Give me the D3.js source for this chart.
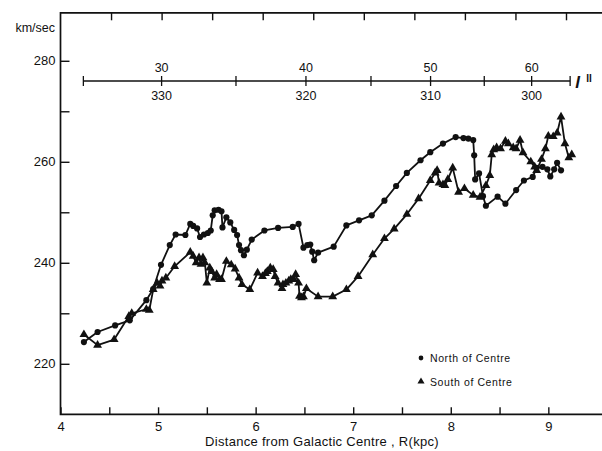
<!DOCTYPE html>
<html>
<head>
<meta charset="utf-8">
<script src="https://cdn.jsdelivr.net/npm/d3@7"></script>
<style>
  body { margin: 0; background: #fff; }
  text { font-family: "Liberation Sans", Arial, sans-serif; fill: #111; }
</style>
</head>
<body>
<svg id="chart" width="602" height="451"></svg>
<script>
// rotation velocity vs distance

// North of Centre (dots)
const northR = [4.24, 4.38, 4.56, 4.71, 4.88, 4.95, 5.03, 5.12, 5.18, 5.28, 5.33, 5.36, 5.40, 5.43, 5.47, 5.51,
  5.54, 5.56, 5.58, 5.62, 5.65, 5.66, 5.70, 5.74, 5.78, 5.81, 5.83, 5.85, 5.88, 5.91, 5.96, 6.09, 6.23, 6.38,
  6.44, 6.49, 6.53, 6.56, 6.58, 6.60, 6.64, 6.80, 6.93, 7.06, 7.19, 7.32, 7.44, 7.55, 7.69, 7.79, 7.92, 8.05,
  8.13, 8.18, 8.23, 8.24, 8.25, 8.29, 8.33, 8.36, 8.48, 8.56, 8.67, 8.75, 8.84, 8.88, 8.94, 8.99, 9.02, 9.06,
  9.09, 9.13];
const northV = [224.3, 226.3, 227.6, 228.6, 232.6, 234.8, 239.6, 243.5, 245.6, 245.5, 247.7, 247.3, 246.8, 245.1,
  245.6, 245.9, 246.4, 249.4, 250.4, 250.5, 250.2, 247.0, 249.0, 248.0, 246.5, 245.5, 243.5, 242.5, 241.5, 242.6,
  244.6, 246.4, 246.9, 247.1, 247.7, 243.0, 243.5, 243.6, 242.2, 240.5, 242.0, 243.2, 247.4, 248.4, 249.4, 252.3,
  255.2, 257.8, 260.3, 261.9, 263.6, 264.9, 264.7, 264.6, 264.3, 261.3, 256.5, 257.7, 253.2, 251.3, 253.1, 251.7,
  254.4, 256.3, 257.0, 258.8, 259.0, 258.5, 257.1, 258.5, 259.8, 258.3];

// South of Centre (triangles)
const southR = [4.24, 4.38, 4.55, 4.70, 4.73, 4.88, 4.91, 4.95, 4.99, 5.02, 5.04, 5.08, 5.17, 5.33, 5.36, 5.39,
  5.42, 5.44, 5.46, 5.48, 5.50, 5.53, 5.55, 5.58, 5.60, 5.63, 5.65, 5.70, 5.75, 5.79, 5.83, 5.86, 5.94, 6.02,
  6.07, 6.10, 6.12, 6.15, 6.18, 6.20, 6.23, 6.27, 6.28, 6.31, 6.34, 6.36, 6.39, 6.41, 6.44, 6.45, 6.47, 6.49,
  6.52, 6.64, 6.79, 6.93, 7.05, 7.20, 7.32, 7.42, 7.55, 7.67, 7.79, 7.84, 7.86, 7.88, 7.92, 7.94, 7.97, 8.02,
  8.08, 8.14, 8.23, 8.30, 8.36, 8.40, 8.42, 8.44, 8.47, 8.51, 8.56, 8.59, 8.64, 8.67, 8.71, 8.74, 8.82, 8.86,
  8.88, 8.93, 8.97, 9.00, 9.05, 9.09, 9.13, 9.17, 9.21, 9.24];
const southV = [225.8, 223.7, 224.8, 229.4, 230.0, 230.8, 230.6, 234.7, 236.0, 235.4, 236.4, 237.0, 239.3, 242.1,
  241.3, 240.0, 241.0, 239.7, 241.0, 240.0, 236.0, 239.0, 238.3, 237.0, 237.7, 236.7, 236.7, 240.3, 239.6, 238.8,
  237.0, 235.7, 234.7, 238.0, 237.3, 237.9, 238.3, 239.0, 238.7, 237.3, 236.0, 234.9, 235.7, 236.0, 236.4, 236.7,
  236.7, 237.7, 236.0, 233.4, 233.1, 233.3, 234.9, 233.3, 233.3, 234.7, 237.3, 241.6, 244.8, 246.7, 249.6, 252.7,
  256.3, 257.8, 258.3, 255.8, 255.5, 255.3, 256.5, 258.8, 254.0, 254.7, 253.4, 253.0, 255.3, 257.3, 261.4, 262.4,
  262.8, 262.6, 264.1, 263.6, 262.8, 262.6, 264.3, 261.8, 260.0, 259.0, 258.3, 260.5, 262.6, 265.1, 265.0, 265.7,
  268.9, 263.6, 260.8, 261.4];

const yTicks = [220, 230, 240, 250, 260, 270, 280];
const yLabels = [220, 240, 260, 280];
const xTicks = [4, 4.5, 5, 5.5, 6, 6.5, 7, 7.5, 8, 8.5, 9];
const xLabels = [4, 5, 6, 7, 8, 9];
const topTicks = [4.5, 5, 5.5, 6, 6.5, 7, 7.5, 8, 8.5, 9];
// galactic longitude scale, R = R0 sin(l)
const lonTicks = [30, 35, 40, 45, 50, 55, 60];
const lonLabels = [30, 40, 50, 60];
const lonEnds = [25, 64.7];
const R0 = 10;

const svg = d3.select("#chart");

const x = d3.scaleLinear().domain([4, 9.55]).range([60.5, 602]);
const y = d3.scaleLinear().domain([210, 289.5]).range([414.3, 12.8]);
// the top scale of the original is drawn a bit stretched
const xTop = d3.scaleLinear().domain([4, 9]).range([x(4), x(4) + 5 * 101.1]);
const lonX = l => xTop(R0 * Math.sin(l * Math.PI / 180));

// frame: left, top, bottom (right side is cut off)
svg.append("path")
  .attr("d", `M${x.range()[1]},${y(289.5)}H${x(4)}V${y(210)}H${x.range()[1]}`)
  .attr("fill", "none").attr("stroke", "#111").attr("stroke-width", 1.7);

const yAxis = svg.append("g")
  .attr("transform", `translate(${x(4)},0)`)
  .call(d3.axisLeft(y).tickValues(yTicks).tickSize(-9).tickSizeOuter(0).tickPadding(5)
    .tickFormat(d => yLabels.includes(d) ? d : ""));
yAxis.select(".domain").remove();
yAxis.selectAll("text").attr("font-size", 13).attr("font-family", null);

const xAxis = svg.append("g")
  .attr("transform", `translate(0,${y(210)})`)
  .call(d3.axisBottom(x).tickValues(xTicks).tickSize(-7).tickSizeOuter(0).tickPadding(7)
    .tickFormat(d => xLabels.includes(d) ? d : ""));
xAxis.select(".domain").remove();
xAxis.selectAll("text").attr("font-size", 13).attr("font-family", null);

const topAxis = svg.append("g")
  .attr("transform", `translate(0,${y(289.5)})`)
  .call(d3.axisTop(xTop).tickValues(topTicks).tickSize(-7.5).tickSizeOuter(0).tickFormat(""));
topAxis.select(".domain").remove();
svg.selectAll(".tick line").attr("stroke", "#111").attr("stroke-width", 1.4);

svg.append("text").attr("x", 55).attr("y", 32).attr("text-anchor", "end")
  .attr("font-size", 12.5).text("km/sec");

svg.append("text").attr("x", 322).attr("y", 446).attr("text-anchor", "middle")
  .attr("font-size", 13).attr("letter-spacing", 0.3)
  .text("Distance from Galactic Centre , R(kpc)");

// longitude bar
const lonY = 81;
const lon = svg.append("g");
lon.append("line").attr("x1", lonX(lonEnds[0])).attr("x2", lonX(lonEnds[1]))
  .attr("y1", lonY).attr("y2", lonY).attr("stroke", "#111").attr("stroke-width", 1.3);
lon.selectAll(".lt").data(lonTicks.concat(lonEnds)).join("line")
  .attr("x1", d => lonX(d)).attr("x2", d => lonX(d))
  .attr("y1", lonY - 5).attr("y2", lonY + 5).attr("stroke", "#111").attr("stroke-width", 1.3);
lon.selectAll(".up").data(lonLabels).join("text")
  .attr("x", d => lonX(d)).attr("y", lonY - 9).attr("text-anchor", "middle")
  .attr("font-size", 12.5).text(d => d);
lon.selectAll(".dn").data(lonLabels).join("text")
  .attr("x", d => lonX(d)).attr("y", lonY + 19).attr("text-anchor", "middle")
  .attr("font-size", 12.5).text(d => 360 - d);
lon.append("text").attr("x", lonX(lonEnds[1]) + 5).attr("y", lonY + 7)
  .attr("font-size", 17).attr("font-style", "italic").attr("font-weight", "bold")
  .attr("font-family", "DejaVu Serif").text("l");
lon.append("text").attr("x", lonX(lonEnds[1]) + 16).attr("y", lonY + 1)
  .attr("font-size", 10).attr("font-weight", "bold").attr("font-family", "DejaVu Serif").text("II");

// curves
const north = northR.map((r, i) => [r, northV[i]]);
const south = southR.map((r, i) => [r, southV[i]]);
const line = d3.line().x(d => x(d[0])).y(d => y(d[1]));

[north, south].forEach(s => {
  svg.append("path").datum(s).attr("d", line)
    .attr("fill", "none").attr("stroke", "#111").attr("stroke-width", 1.8).attr("stroke-linejoin", "round");
});

const dot = d3.symbol(d3.symbolCircle, 30);
const tri = d3.symbol(d3.symbolTriangle, 34);

svg.append("g").selectAll("path").data(north).join("path")
  .attr("d", dot).attr("transform", d => `translate(${x(d[0])},${y(d[1])})`).attr("fill", "#111");
svg.append("g").selectAll("path").data(south).join("path")
  .attr("d", tri).attr("transform", d => `translate(${x(d[0])},${y(d[1])})`).attr("fill", "#111");

// legend
const legend = svg.append("g").attr("transform", "translate(421,358)");
legend.append("path").attr("d", d3.symbol(d3.symbolCircle, 18)).attr("fill", "#111");
legend.append("path").attr("d", d3.symbol(d3.symbolTriangle, 22)).attr("transform", "translate(0,23.5)").attr("fill", "#111");
legend.append("text").attr("x", 9).attr("y", 4).attr("font-size", 10.5).attr("letter-spacing", 0.6).text("North of Centre");
legend.append("text").attr("x", 9).attr("y", 27.5).attr("font-size", 10.5).attr("letter-spacing", 0.6).text("South of Centre");
</script>
</body>
</html>
